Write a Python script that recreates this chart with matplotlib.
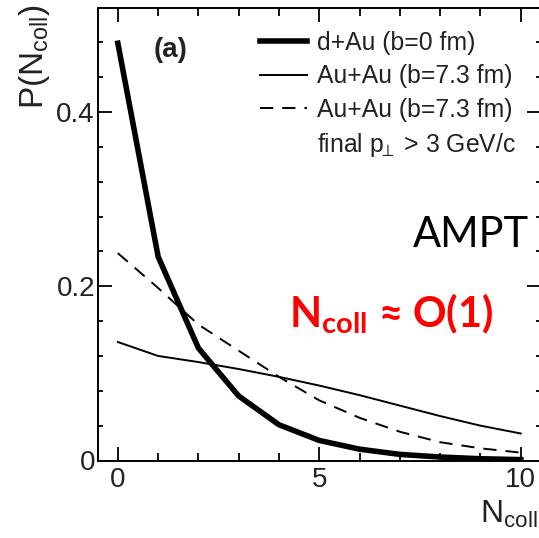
import matplotlib
matplotlib.use("Agg")
import matplotlib.pyplot as plt
from matplotlib.lines import Line2D
from matplotlib.ticker import MultipleLocator

plt.rcParams["font.family"] = ["Liberation Sans", "DejaVu Sans"]
plt.rcParams["mathtext.fontset"] = "custom"
plt.rcParams["mathtext.rm"] = "Liberation Sans"
plt.rcParams["mathtext.bf"] = "Lato:bold"
plt.rcParams["lines.scale_dashes"] = False

# N_coll values and probabilities
ncoll = [0, 1, 2, 3, 4, 5, 6, 7, 8, 9, 10]
p_dau = [0.479, 0.234, 0.129, 0.074, 0.041, 0.023, 0.013, 0.007, 0.004, 0.002, 0.001]
p_auau = [0.136, 0.120, 0.113, 0.105, 0.096, 0.086, 0.075, 0.063, 0.051, 0.040, 0.031]
p_auau_pt = [0.238, 0.198, 0.156, 0.126, 0.096, 0.069, 0.049, 0.033, 0.021, 0.014, 0.009]

labels = ["d+Au (b=0 fm)", "Au+Au (b=7.3 fm)", "Au+Au (b=7.3 fm)",
          r"final p$_{\!\!\perp}$ > 3 GeV/c"]
xticks = [0, 5, 10]
yticks = [0, 0.2, 0.4]
yticklabels = ["0", "0.2", "0.4"]

W, H = 539, 538
fig = plt.figure(figsize=(W / 100, H / 100), dpi=100)
ax = fig.add_axes([97.7 / W, 77.5 / H, 443.2 / W, 453 / H])

l1, = ax.plot(ncoll, p_dau, color="black", lw=4.0, solid_joinstyle="round")
l2, = ax.plot(ncoll, p_auau, color="black", lw=1.4)
l3, = ax.plot(ncoll, p_auau_pt, color="black", lw=1.4, dashes=(9.5, 6.5))
blank = Line2D([], [], color="none")

ax.set_xlim(-0.5, 10.5)
ax.set_ylim(0, 0.52)
ax.set_xticks(xticks)
ax.set_xticklabels([str(t) for t in xticks])
ax.set_yticks(yticks)
ax.set_yticklabels(yticklabels)
ax.xaxis.set_minor_locator(MultipleLocator(1))
ax.yaxis.set_minor_locator(MultipleLocator(0.04))

for s in ax.spines.values():
    s.set_linewidth(1.4)
ax.tick_params(which="both", direction="in", top=True, right=True, width=1.3,
               labelsize=20, labelcolor="#222222")
ax.tick_params(axis="x", which="major", length=10, pad=5)
ax.tick_params(axis="x", which="minor", length=6)
ax.tick_params(axis="y", which="major", length=10, pad=2)
ax.tick_params(axis="y", which="minor", length=3.5)

leg = ax.legend([l1, l2, l3, blank], labels, loc="upper left",
                bbox_to_anchor=(260 / W, 1 - 31 / H), bbox_transform=fig.transFigure,
                frameon=False, fontsize=17.8, handlelength=1.9, handletextpad=0.4,
                labelspacing=0.38, borderpad=0, borderaxespad=0)
for t in leg.get_texts():
    t.set_color("#222222")

# axis labels placed like the original
fig.text(35 / W, 1 - 4 / H, r"P(N$_{\rm coll}$)", rotation=90, ha="center", va="top",
         fontsize=24, color="#222222")
fig.text(480 / W, 1 - 523 / H, r"N$_{\rm coll}$", ha="left", va="baseline",
         fontsize=23, color="#222222")

ax.text(0.165, 0.906, "(a)", transform=ax.transAxes, ha="center",
        va="center", fontsize=20, fontweight="bold", color="#222222")

fig.text(413 / W, 1 - 247 / H, "AMPT", ha="left", va="baseline",
         fontsize=30, family=["Lato", "DejaVu Sans"], color="black")
fig.text(289 / W, 1 - 327 / H, r"N$_{\mathbf{coll}}$ ≈ O(1)", ha="left", va="baseline",
         fontsize=30, fontweight="bold", family=["Lato", "DejaVu Sans"], color="#ff0000")

fig.savefig("out.png", dpi=100)
